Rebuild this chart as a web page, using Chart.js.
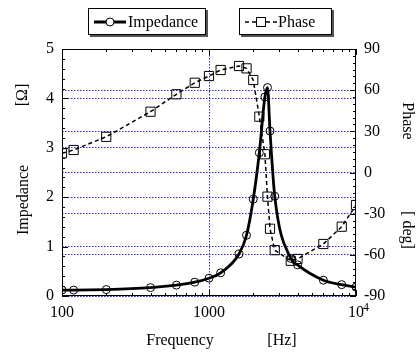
<!DOCTYPE html>
<html>
<head>
<meta charset="utf-8">
<script src="https://cdn.jsdelivr.net/npm/chart.js@4/dist/chart.umd.min.js"></script>
<style>
  html, body { margin: 0; padding: 0; background: #fff; }
  #wrap { width: 418px; height: 354px; }
</style>
</head>
<body>
<div id="wrap"><canvas id="freqChart" width="418" height="354"></canvas></div>
<script>
// frequency sweep [Hz]
const freqs = [100, 120, 200, 400, 600, 800, 1000, 1200, 1600, 1800, 2000, 2200, 2400, 2500, 2600, 2800, 3600, 4000, 6000, 8000, 10000];
// impedance [Ohm]
const impedance = [0.12, 0.12, 0.13, 0.17, 0.22, 0.28, 0.36, 0.47, 0.85, 1.23, 1.96, 2.90, 4.03, 4.22, 3.34, 2.02, 0.76, 0.63, 0.32, 0.23, 0.18];
// phase [deg]
const phase = [14, 16.4, 26, 44.3, 57, 65.4, 70.3, 74.7, 77.6, 75.9, 67.4, 40.7, 13.3, -17.6, -41, -56.6, -64.3, -63, -52.1, -39.5, -23.7];

const xTicks = [100, 1000, 10000];
const xTickLabels = ['100', '1000', '10'];
const xTickExponents = ['', '', '4'];

const FONT = 'Liberation Serif, Times New Roman, serif';
const gridBlue = '#2b2bd9';

// frame, inward tick marks, axis titles and boxed legend
const decorPlugin = {
    id: 'decor',
    afterDraw(chart) {
        const ctx = chart.ctx;
        const a = chart.chartArea;
        const x = chart.scales.x, y = chart.scales.y, y1 = chart.scales.y1;
        ctx.save();
        ctx.strokeStyle = '#000';
        ctx.lineWidth = 1;
        ctx.strokeRect(a.left + 0.5, a.top + 0.5, a.right - a.left - 1, a.bottom - a.top - 1);

        ctx.beginPath();
        // left axis ticks (0.2 steps)
        for (let i = 0; i <= 25; i++) {
            const py = Math.round(y.getPixelForValue(i * 0.2)) + 0.5;
            const len = i % 5 === 0 ? 6 : 3;
            ctx.moveTo(a.left, py); ctx.lineTo(a.left + len, py);
        }
        // right axis ticks (5 deg steps)
        for (let d = -90; d <= 90; d += 5) {
            const py = Math.round(y1.getPixelForValue(d)) + 0.5;
            const len = d % 30 === 0 ? 6 : 3;
            ctx.moveTo(a.right, py); ctx.lineTo(a.right - len, py);
        }
        // log ticks top and bottom
        [100, 1000].forEach(dec => {
            for (let m = 1; m <= 10; m++) {
                const px = Math.round(x.getPixelForValue(dec * m)) + 0.5;
                const len = (m === 1 || m === 10) ? 6 : 3;
                ctx.moveTo(px, a.bottom); ctx.lineTo(px, a.bottom - len);
                ctx.moveTo(px, a.top); ctx.lineTo(px, a.top + len);
            }
        });
        ctx.stroke();

        ctx.fillStyle = '#000';
        // exponents on x tick labels
        ctx.font = '12px ' + FONT;
        ctx.textAlign = 'left';
        ctx.textBaseline = 'middle';
        xTicks.forEach((v, i) => {
            if (xTickExponents[i]) {
                ctx.fillText(xTickExponents[i], x.getPixelForValue(v) + 7, a.bottom + 12);
            }
        });

        // axis titles
        ctx.font = '16px ' + FONT;
        ctx.textAlign = 'center';
        ctx.fillText('Frequency', 180, 341);
        ctx.fillText('[Hz]', 282, 341);

        ctx.save();
        ctx.translate(24, 200);
        ctx.rotate(-Math.PI / 2);
        ctx.fillText('Impedance', 0, 0);
        ctx.restore();
        ctx.save();
        ctx.translate(23, 95);
        ctx.rotate(-Math.PI / 2);
        ctx.fillText('[\u03a9]', 0, 0);
        ctx.restore();

        ctx.save();
        ctx.translate(407, 121);
        ctx.rotate(Math.PI / 2);
        ctx.fillText('Phase', 0, 0);
        ctx.restore();
        ctx.save();
        ctx.translate(407, 230);
        ctx.rotate(Math.PI / 2);
        ctx.fillText('[ deg]', 0, 0);
        ctx.restore();

        // legend boxes
        function box(bx, by, bw, bh) {
            ctx.fillStyle = '#555';
            ctx.fillRect(bx + 2, by + 2, bw, bh);
            ctx.fillStyle = '#fff';
            ctx.fillRect(bx, by, bw, bh);
            ctx.strokeStyle = '#000';
            ctx.lineWidth = 1;
            ctx.setLineDash([]);
            ctx.strokeRect(bx + 0.5, by + 0.5, bw - 1, bh - 1);
        }
        box(88, 8, 118, 27);
        box(239, 8, 93, 27);

        ctx.strokeStyle = '#000';
        ctx.lineWidth = 3;
        ctx.beginPath();
        ctx.moveTo(94, 22); ctx.lineTo(126, 22);
        ctx.stroke();
        ctx.lineWidth = 1;
        ctx.beginPath();
        ctx.arc(110, 22, 4, 0, Math.PI * 2);
        ctx.fillStyle = '#fff';
        ctx.fill();
        ctx.stroke();

        ctx.lineWidth = 1.5;
        ctx.setLineDash([4, 3]);
        ctx.beginPath();
        ctx.moveTo(245, 22); ctx.lineTo(277, 22);
        ctx.stroke();
        ctx.setLineDash([]);
        ctx.lineWidth = 1;
        ctx.fillStyle = '#fff';
        ctx.fillRect(256.5, 17.5, 9, 9);
        ctx.strokeRect(256.5, 17.5, 9, 9);

        ctx.fillStyle = '#000';
        ctx.textAlign = 'left';
        ctx.font = '16px ' + FONT;
        ctx.fillText('Impedance', 128, 23);
        ctx.fillText('Phase', 278, 23);
        ctx.restore();
    }
};

const ctx = document.getElementById('freqChart').getContext('2d');
new Chart(ctx, {
    type: 'line',
    data: {
        datasets: [{
            label: 'Impedance',
            data: freqs.map((f, i) => ({ x: f, y: impedance[i] })),
            yAxisID: 'y',
            borderColor: '#000',
            borderWidth: 2.8,
            cubicInterpolationMode: 'monotone',
            pointStyle: 'circle',
            pointRadius: 4,
            pointBorderWidth: 1,
            pointBorderColor: '#000',
            pointBackgroundColor: 'rgba(255,255,255,0)'
        }, {
            label: 'Phase',
            data: freqs.map((f, i) => ({ x: f, y: phase[i] })),
            yAxisID: 'y1',
            borderColor: '#000',
            borderWidth: 1.5,
            borderDash: [4, 3],
            tension: 0,
            pointStyle: 'rect',
            pointRadius: 6.5,
            pointBorderWidth: 1,
            pointBorderColor: '#000',
            pointBackgroundColor: 'rgba(255,255,255,0)'
        }]
    },
    options: {
        responsive: false,
        animation: false,
        layout: { padding: { top: 49, left: 0, right: 0, bottom: 0 } },
        plugins: {
            legend: { display: false },
            tooltip: { enabled: false }
        },
        scales: {
            x: {
                type: 'logarithmic',
                min: 100,
                max: 10000,
                afterBuildTicks: function(scale) {
                    scale.ticks = xTicks.map(v => ({ value: v }));
                },
                afterFit: function(scale) { scale.height = 58; },
                ticks: {
                    autoSkip: false,
                    maxRotation: 0,
                    padding: 7,
                    color: '#000',
                    font: { family: FONT, size: 16 },
                    callback: function(value) {
                        const i = xTicks.indexOf(value);
                        return i >= 0 ? xTickLabels[i] : '';
                    }
                },
                grid: {
                    drawTicks: false,
                    lineWidth: 1,
                    color: c => (c.tick && c.tick.value === 1000) ? gridBlue : 'rgba(0,0,0,0)'
                },
                border: { display: false, dash: [1.5, 1.5] }
            },
            y: {
                position: 'left',
                min: 0,
                max: 5,
                afterFit: function(scale) { scale.width = 62; },
                ticks: {
                    stepSize: 1,
                    padding: 8,
                    color: '#000',
                    font: { family: FONT, size: 16 }
                },
                grid: { drawTicks: false, color: gridBlue, lineWidth: 1 },
                border: { display: false, dash: [1.5, 1.5] }
            },
            y1: {
                position: 'right',
                min: -90,
                max: 90,
                afterFit: function(scale) { scale.width = 62; },
                ticks: {
                    stepSize: 15,
                    padding: 8,
                    color: '#000',
                    font: { family: FONT, size: 16 },
                    callback: v => (v % 30 === 0 ? String(v) : '')
                },
                grid: { drawTicks: false, color: gridBlue, lineWidth: 1 },
                border: { display: false, dash: [1.5, 1.5] }
            }
        }
    },
    plugins: [decorPlugin]
});
</script>
</body>
</html>
